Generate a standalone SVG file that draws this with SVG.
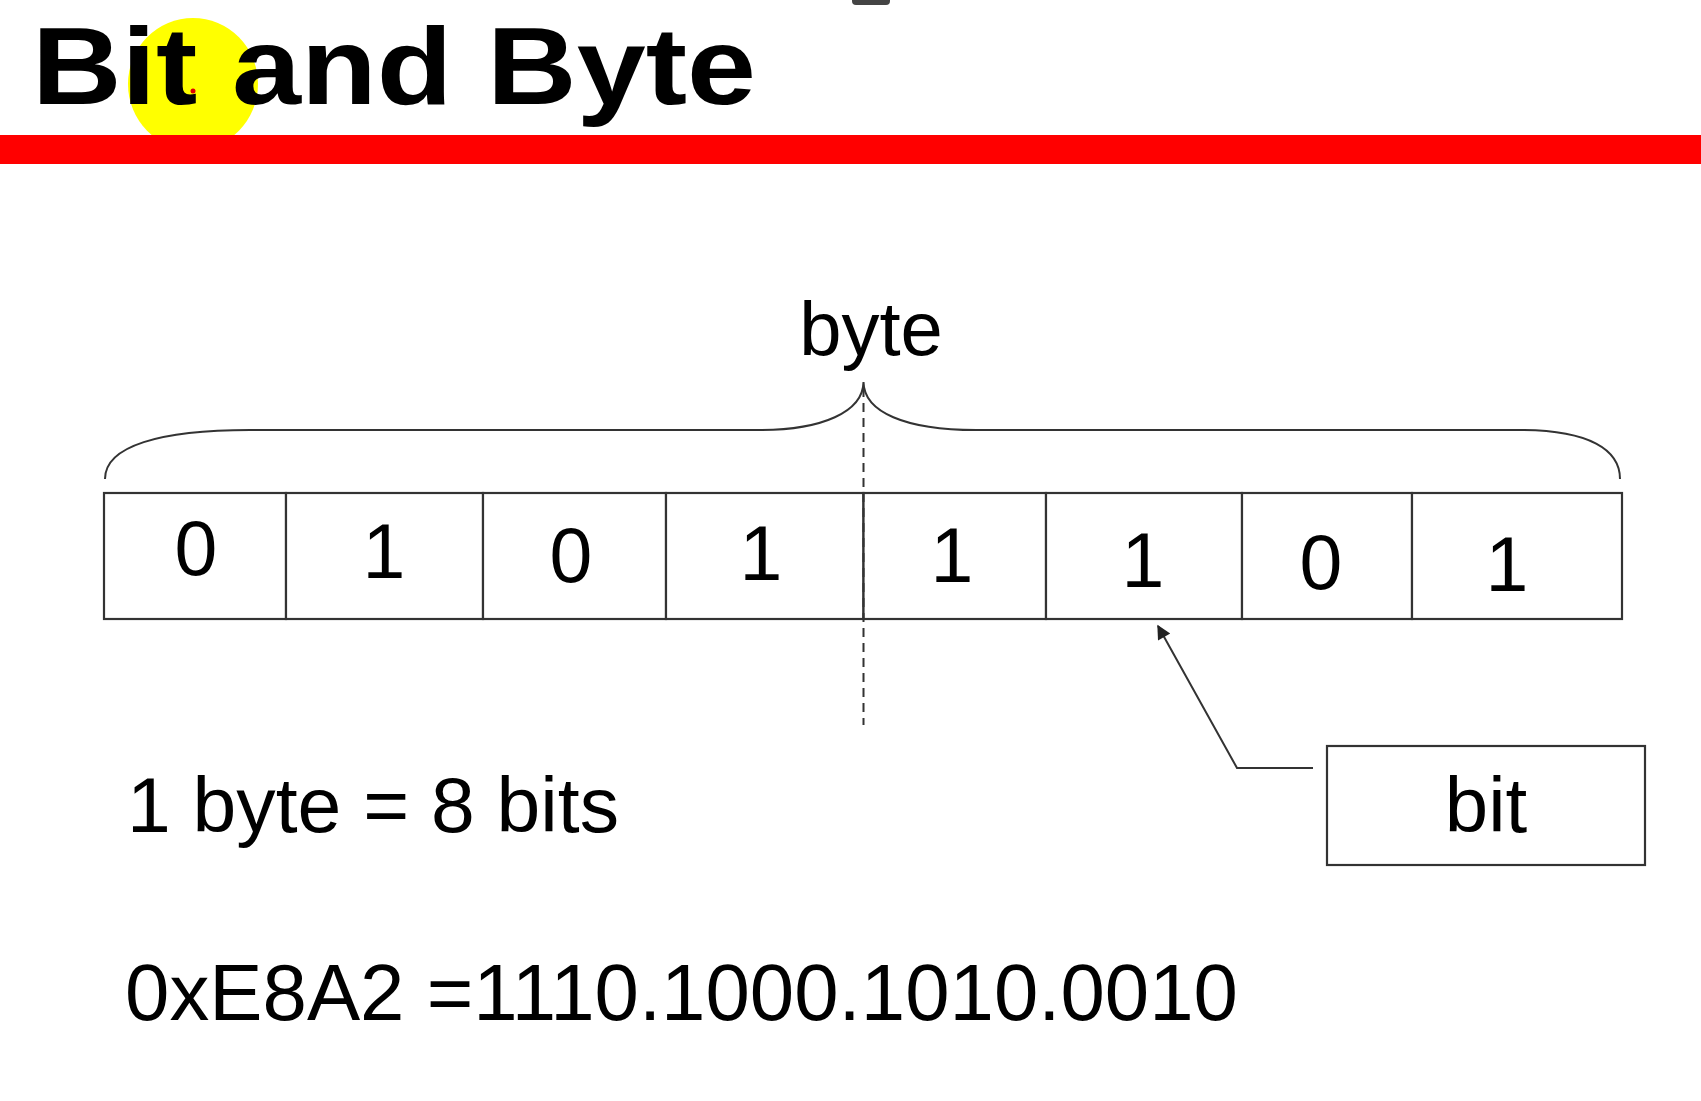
<svg xmlns="http://www.w3.org/2000/svg" width="1701" height="1101" viewBox="0 0 1701 1101">
  <style>
    .t { font-family: "Liberation Sans", Arial, sans-serif; fill: #000; }
    .digit { font-size: 77px; text-anchor: middle; }
    .cell { fill: #fff; stroke: #333; stroke-width: 2.2; }
    .line { fill: none; stroke: #333; stroke-width: 2; }
  </style>
  <defs>
    <marker id="arrow" viewBox="0 0 10 10" refX="9" refY="5" markerWidth="20" markerHeight="14" orient="auto" markerUnits="userSpaceOnUse">
      <path d="M0,0 L10,5 L0,10 z" fill="#222"/>
    </marker>
  </defs>
  <rect width="1701" height="1101" fill="#fff"/>

  <g id="title">
    <ellipse cx="193" cy="84" rx="65" ry="66" fill="#ffff00"/>
    <text class="t" x="32" y="104" font-size="110" font-weight="bold" textLength="724" lengthAdjust="spacingAndGlyphs">Bit and Byte</text>
    <circle cx="193" cy="91" r="2.5" fill="#e00000"/>
    <rect x="0" y="135" width="1701" height="29" fill="#ff0000"/>
    <rect x="852" y="-6" width="38" height="11" rx="4" fill="#444"/>
  </g>

  <g id="byte-label">
    <text class="t" x="871" y="355" font-size="76" text-anchor="middle">byte</text>
  </g>

  <g id="bits">
    <rect class="cell" x="104" y="493" width="182" height="126"/>
    <rect class="cell" x="286" y="493" width="197" height="126"/>
    <rect class="cell" x="483" y="493" width="183" height="126"/>
    <rect class="cell" x="666" y="493" width="197.5" height="126"/>
    <rect class="cell" x="863.5" y="493" width="182.5" height="126"/>
    <rect class="cell" x="1046" y="493" width="196" height="126"/>
    <rect class="cell" x="1242" y="493" width="170" height="126"/>
    <rect class="cell" x="1412" y="493" width="210" height="126"/>
    <text class="t digit" x="196" y="575">0</text>
    <text class="t digit" x="384" y="578">1</text>
    <text class="t digit" x="571" y="582">0</text>
    <text class="t digit" x="761" y="580">1</text>
    <text class="t digit" x="952" y="582">1</text>
    <text class="t digit" x="1143" y="587">1</text>
    <text class="t digit" x="1321" y="589">0</text>
    <text class="t digit" x="1507" y="591">1</text>
  </g>

  <g id="bit-box">
    <rect class="cell" x="1327" y="746" width="318" height="119"/>
    <text class="t" x="1486" y="832" font-size="78" text-anchor="middle">bit</text>
  </g>

  <g id="connectors">
    <path class="line" d="M105,479 C105,446 160,430 250,430 L760,430 C822,430 863,412 863.5,382 C864,412 905,430 976,430 L1519,430 C1590,430 1620,450 1620,479"/>
    <line x1="863.5" y1="388" x2="863.5" y2="725" stroke="#333" stroke-width="2" stroke-dasharray="9,6"/>
    <polyline class="line" points="1313,768 1237,768 1158,626" marker-end="url(#arrow)"/>
  </g>

  <g id="notes">
    <text class="t" x="127" y="832" font-size="78" textLength="492" lengthAdjust="spacingAndGlyphs">1 byte = 8 bits</text>
    <text class="t" x="125" y="1020" font-size="80" textLength="1113" lengthAdjust="spacingAndGlyphs">0xE8A2 =1110.1000.1010.0010</text>
  </g>
</svg>
